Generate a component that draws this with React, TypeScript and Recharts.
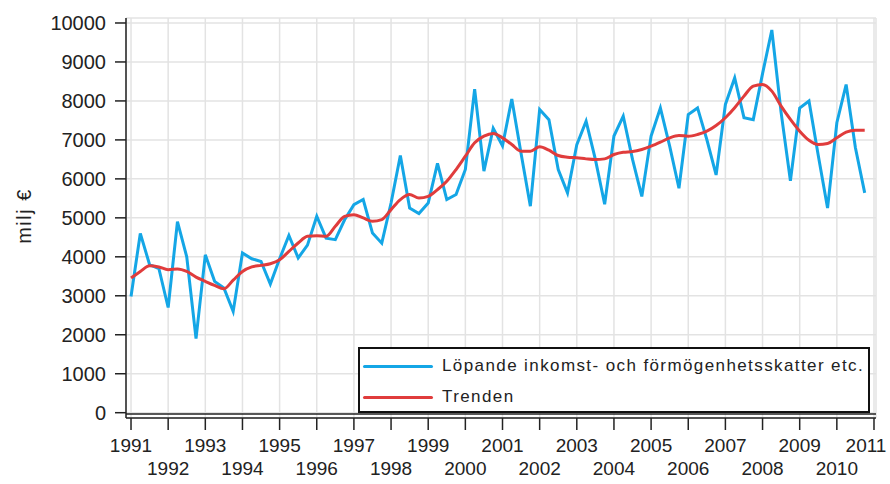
import { LineChart, Line, XAxis, YAxis, CartesianGrid, Legend, ReferenceLine } from 'recharts';

const years = [1991, 1992, 1993, 1994, 1995, 1996, 1997, 1998, 1999, 2000, 2001, 2002, 2003, 2004, 2005, 2006, 2007, 2008, 2009, 2010];
const quarterSteps = [0, 0.25, 0.5, 0.75];

// Löpande inkomst- och förmögenhetsskatter etc., milj €, per kvartal
const lopande = [
  2980, 4600, 3800, 3700,
  2700, 4900, 4000, 1900,
  4050, 3370, 3200, 2600,
  4100, 3950, 3880, 3300,
  3950, 4550, 3970, 4300,
  5040, 4480, 4440, 4950,
  5340, 5470, 4610, 4350,
  5380, 6600, 5250, 5110,
  5380, 6400, 5470, 5600,
  6240, 8300, 6200, 7300,
  6850, 8050, 6650, 5300,
  7780, 7520, 6240, 5640,
  6880, 7480, 6500, 5350,
  7100, 7610, 6500, 5550,
  7100, 7820, 6840, 5760,
  7650, 7820, 7010, 6100,
  7910, 8590, 7570, 7520,
  8700, 9820, 7700, 5950,
  7820, 8000, 6600, 5250,
  7440, 8420, 6800, 5640,
];

const trenden = [
  3455, 3625, 3770, 3740,
  3670, 3690, 3625, 3480,
  3370, 3265, 3180, 3400,
  3625, 3740, 3780, 3823,
  3925, 4140, 4355, 4525,
  4542, 4525, 4782, 5039,
  5082, 4997, 4910, 4954,
  5211, 5468, 5597, 5510,
  5553, 5725, 5938, 6240,
  6581, 6925, 7095, 7164,
  7053, 6882, 6710, 6710,
  6822, 6736, 6600, 6556,
  6540, 6513, 6496, 6513,
  6625, 6684, 6700, 6753,
  6838, 6941, 7053, 7113,
  7095, 7139, 7224, 7370,
  7568, 7825, 8123, 8380,
  8424, 8252, 7866, 7525,
  7224, 6992, 6882, 6908,
  7053, 7198, 7250, 7250,
];

const yTicks = [0, 1000, 2000, 3000, 4000, 5000, 6000, 7000, 8000, 9000, 10000];
const xTicks = [1991, 1992, 1993, 1994, 1995, 1996, 1997, 1998, 1999, 2000, 2001, 2002, 2003, 2004, 2005, 2006, 2007, 2008, 2009, 2010, 2011];

const seriesNames = ['Löpande inkomst- och förmögenhetsskatter etc.', 'Trenden'];

const BLUE = '#14a6e6';
const RED = '#e03c3c';
const AXIS = '#222';
const FONT = '"Liberation Sans", Arial, sans-serif';

const data = years.flatMap((year, yi) =>
  quarterSteps.map((q, qi) => ({
    t: year + q,
    lopande: lopande[yi * 4 + qi],
    trenden: trenden[yi * 4 + qi],
  }))
);

function YearTick({ x, y, payload }: any) {
  const row = payload.value % 2 === 1 ? 0 : 1;
  // keep the last label inside the picture, like the original
  const tx = Math.min(x, 866);
  return (
    <text x={tx} y={y + 20 + row * 23} textAnchor="middle" fontSize={19} fill="#222" fontFamily={FONT}>
      {payload.value}
    </text>
  );
}

function LegendBox() {
  const colors = [BLUE, RED];
  return (
    <div
      style={{
        position: 'relative',
        width: 512,
        height: 66,
        boxSizing: 'border-box',
        border: '2px solid #111',
        background: '#fff',
        fontFamily: FONT,
        fontSize: 17,
        letterSpacing: 1.4,
        color: '#222',
      }}
    >
      {seriesNames.map((name, i) => (
        <div key={name}>
          <div style={{ position: 'absolute', left: 3, top: 16 + i * 31, width: 70, height: 3, background: colors[i], borderRadius: 2 }} />
          <div style={{ position: 'absolute', left: 82, top: 6 + i * 31, lineHeight: '22px', whiteSpace: 'nowrap' }}>{name}</div>
        </div>
      ))}
    </div>
  );
}

export default function App() {
  return (
    <div style={{ position: 'absolute', left: 0, top: 0, width: 890, height: 484, background: '#fff' }}>
      <LineChart width={890} height={484} data={data} margin={{ top: 18, right: 14, bottom: 0, left: 0 }}>
        <CartesianGrid stroke="#e3e3e3" strokeWidth={1.5} />
        <XAxis
          dataKey="t"
          type="number"
          domain={[1990.865, 2011.054]}
          allowDataOverflow
          ticks={xTicks}
          interval={0}
          height={66}
          tickSize={12}
          tickMargin={2}
          tick={<YearTick />}
          axisLine={{ stroke: AXIS, strokeWidth: 1.5 }}
          tickLine={{ stroke: AXIS, strokeWidth: 1.5 }}
        />
        <XAxis xAxisId="top" dataKey="t" type="number" orientation="top" domain={[1990.865, 2011.054]} height={0} tick={false} tickLine={false} axisLine={{ stroke: AXIS, strokeWidth: 1.5 }} />
        <YAxis
          type="number"
          domain={[-136, 10128]}
          allowDataOverflow
          ticks={yTicks}
          interval={0}
          width={126}
          tickSize={11}
          tickMargin={9}
          tick={{ fontSize: 20, fill: '#222', fontFamily: FONT }}
          axisLine={{ stroke: AXIS, strokeWidth: 1.5 }}
          tickLine={{ stroke: AXIS, strokeWidth: 1.5 }}
          label={{
            content: () => (
              <text x={31} y={216} transform="rotate(-90 31 216)" textAnchor="middle" fontSize={20} letterSpacing={1.5} fill="#222" fontFamily={FONT}>
                milj €
              </text>
            ),
          }}
        />
        <YAxis yAxisId="right" orientation="right" type="number" domain={[-136, 10128]} width={0} tick={false} tickLine={false} axisLine={{ stroke: AXIS, strokeWidth: 1.5 }} />
        <ReferenceLine y={-33} stroke={AXIS} strokeWidth={1.5} ifOverflow="visible" />
        <Line dataKey="lopande" name={seriesNames[0]} stroke={BLUE} strokeWidth={3} dot={false} isAnimationActive={false} />
        <Line dataKey="trenden" name={seriesNames[1]} stroke={RED} strokeWidth={3} dot={false} type="monotone" isAnimationActive={false} />
        <Legend
          layout="horizontal"
          verticalAlign="middle"
          align="center"
          content={<LegendBox />}
          wrapperStyle={{ left: 358, top: 347, width: 512, height: 66 }}
        />
      </LineChart>
    </div>
  );
}
